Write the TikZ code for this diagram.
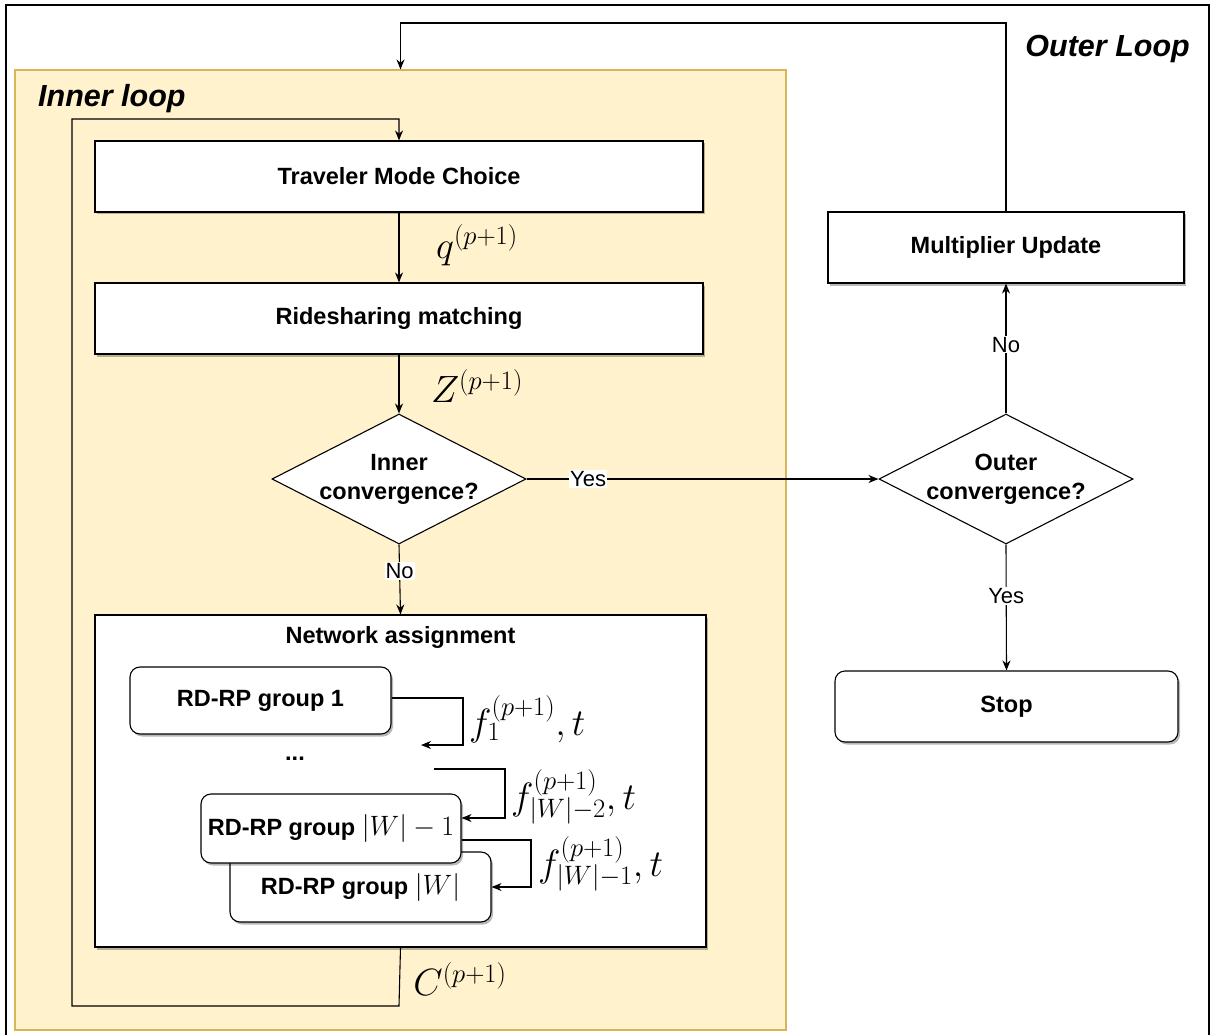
\documentclass[tikz,border=0pt]{standalone}
\usepackage{fix-cm}
\usepackage{fontspec}
\setmainfont{Liberation Sans}
\usetikzlibrary{shapes.geometric,arrows.meta,shadows}
\definecolor{loopfill}{HTML}{FFF2CC}
\definecolor{loopdraw}{HTML}{D6B656}
% superscript lifted a little above a tall subscript
\newcommand{\liftsup}[1]{\raisebox{4pt}{$\scriptstyle #1$}}
\begin{document}
\begin{tikzpicture}[x=1pt,y=-1pt,
  lw/.style={line width=1.1pt},
  arr/.style={lw, -{Stealth[length=10pt,width=8pt]}},
  shade/.style={drop shadow={shadow xshift=2pt,shadow yshift=-2.5pt,fill=black,opacity=0.28}},
  proc/.style={draw=black, lw, fill=white, inner sep=0pt, shade,
    font=\fontsize{23.5}{28}\selectfont\bfseries},
  rproc/.style={proc, rounded corners=10pt},
  dec/.style={shape=diamond, draw=black, lw, fill=white, inner sep=0pt,
    minimum width=254pt, minimum height=130pt},
  dectext/.style={align=center, font=\fontsize{23.5}{29}\selectfont\bfseries},
  lbl/.style={fill=white, inner sep=1pt, font=\fontsize{22}{26}\selectfont},
  mathlbl/.style={inner sep=0pt, font=\fontsize{38}{42}\selectfont},
  title/.style={inner sep=0pt, font=\fontsize{30.5}{34}\selectfont\bfseries\itshape}]

\useasboundingbox (0,0) rectangle (1210,1035);
\fill[white] (0,0) rectangle (1210,1035);

% outer frame (open at the bottom edge)
\draw[lw] (6,1035) -- (6,5) -- (1209,5) -- (1209,1035);

% inner loop container
\node[draw=loopdraw, fill=loopfill, lw, minimum width=771pt, minimum height=960pt,
      inner sep=0pt] (inner) at (400.5,550) {};
\node[title, anchor=west] (innerttl) at (38,99) {Inner loop};
\node[title, anchor=east] (outerttl) at (1190,49) {Outer Loop};

% inner loop steps
\node[proc, minimum width=608pt, minimum height=71pt] (tmc) at (399,176.5) {Traveler Mode Choice};
\node[proc, minimum width=608pt, minimum height=71pt] (rsm) at (399,318.5) {Ridesharing matching};
\node[dec] (d1) at (399,479) {};
\node[dectext] (d1t) at (d1) {Inner\\convergence?};

% network assignment block
\node[proc, minimum width=611pt, minimum height=332pt] (net) at (400.5,781) {};
\node[inner sep=0pt, font=\fontsize{23.5}{28}\selectfont\bfseries] (nettl) at (400.5,637) {Network assignment};
\node[rproc, minimum width=261pt, minimum height=67pt] (g1) at (260.5,700.5) {RD-RP group 1};
\node[inner sep=0pt, font=\fontsize{23.5}{28}\selectfont\bfseries] (dots) at (295,759) {...};
\node[rproc, minimum width=261pt, minimum height=70pt] (g3) at (360.5,887) {RD-RP group {\fontsize{28}{30}\selectfont$|W|$}};
\node[rproc, minimum width=260pt, minimum height=69pt] (g2) at (331,828.5) {RD-RP group {\fontsize{28}{30}\selectfont$|W|-1$}};

% outer loop steps
\node[dec] (d2) at (1006,479) {};
\node[dectext] (d2t) at (d2) {Outer\\convergence?};
\node[proc, minimum width=356pt, minimum height=71pt] (mu) at (1006,247.5) {Multiplier Update};
\node[rproc, minimum width=343pt, minimum height=71pt] (stop) at (1006.5,706.5) {Stop};

% helper points
\coordinate (c1end) at (421,745);
\coordinate (c2start) at (434,769);

% connectors
\draw[arr] (tmc) -- (rsm);
\node[mathlbl] (ql) at (477,245) {$q^{(p+1)}$};
\draw[arr] (rsm) -- (d1);
\node[mathlbl] (zl) at (477,386) {$Z^{(p+1)}$};
\draw[arr] (d1.east) -- (d2.west) node[lbl, pos=0.175] (yes1) {Yes};
\draw[arr] (d1.south) -- (net.north) node[lbl, pos=0.38] (no1) {No};
\draw[arr] (d2.north) -- (mu.south) node[lbl, pos=0.53] (no2) {No};
\draw[arr] (d2.south) -- (stop.north) node[lbl, pos=0.41] (yes2) {Yes};
\draw[arr] (mu.north) -- (1006,23) -| (inner.north);
\draw[arr] (net.south) -- (399,1006) -- (72,1006) -- (72,119) -| (tmc.north);
\node[mathlbl] (cl) at (460,979) {$C^{(p+1)}$};

% flows between groups
\draw[arr] (g1.east |- 0,698) -- (463,698) |- (c1end);
\node[mathlbl, anchor=west] (f1) at (469,719) {$f_1^{(p+1)},t$};
\draw[arr] (c2start) -- (505,769) |- (g2.east |- 0,818);
\node[mathlbl, anchor=west] (f2) at (511,797) {$f_{|W|-2}^{\liftsup{(p+1)}},t$};
\draw[arr] (g2.east |- 0,840) -- (531,840) |- (g3.east);
\node[mathlbl, anchor=west] (f3) at (538,864) {$f_{|W|-1}^{\liftsup{(p+1)}},t$};
\end{tikzpicture}
\end{document}
